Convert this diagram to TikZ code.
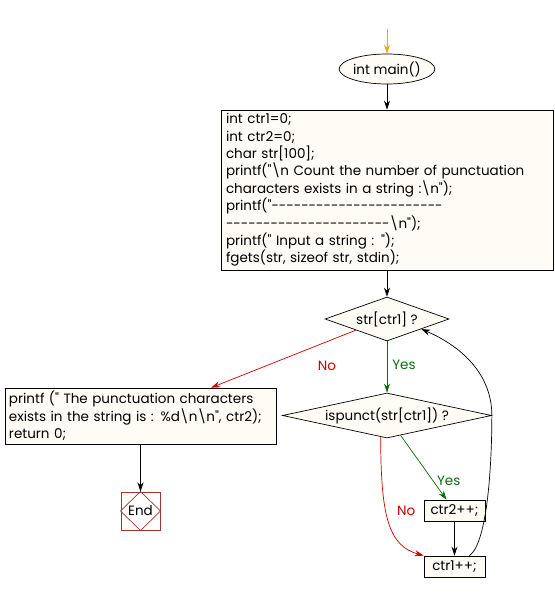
\documentclass[tikz,border=0pt]{standalone}
\usepackage{fontspec}
\setmainfont{Poppins}[Ligatures=TeXOff]
\usetikzlibrary{shapes.geometric,arrows.meta,calc}
\definecolor{paper}{HTML}{FFFBF5}
\definecolor{nored}{HTML}{CC0000}
\definecolor{yesgreen}{HTML}{0B6B0B}
\definecolor{endred}{HTML}{A83232}
\definecolor{startorange}{HTML}{FFA500}
\begin{document}
\begin{tikzpicture}[x=1pt,y=-1pt,line width=0.7pt,>={Stealth[length=9pt,width=6pt]},
  every node/.style={font=\fontsize{13.5}{17.4}\selectfont,inner sep=0pt},
  box/.style={draw,fill=paper,rectangle,align=left},
  decision/.style={draw,fill=paper,diamond},
  yes/.style={yesgreen,->},
  no/.style={nored,->}]
  \useasboundingbox (0,0) rectangle (554,593);
  % nodes
  \coordinate (top) at (387,29);
  \node[draw,fill=paper,ellipse,minimum width=84pt,minimum height=30pt] (main) at (387,69) {int main()};
  \node[box,text width=322pt,inner xsep=5pt,minimum height=160pt] (decl) at (387,190)
    {int ctr1=0;\\
     int ctr2=0;\\
     char str[100];\\
     printf("\textbackslash n Count the number of punctuation\\
     characters exists in a string :\textbackslash n");\\
     \mbox{printf("-----------------------}\\
     \mbox{----------------------\textbackslash n");}\\
     printf(" Input a string : ");\\
     fgets(str, sizeof str, stdin);};
  \node[decision,aspect=2.8,minimum width=124pt,minimum height=44pt] (ask1) at (387,319) {str[ctr1] ?};
  \node[decision,aspect=4.6,minimum width=209pt,minimum height=45pt] (ask2) at (387,415.5) {ispunct(str[ctr1]) ?};
  \node[box,text width=263pt,inner xsep=4pt,minimum height=56pt] (result) at (140.5,416)
    {printf (" The punctuation characters\\
     exists in the string is : \%d\textbackslash n\textbackslash n", ctr2);\\
     return 0;};
  \node[draw=endred,line width=1pt,minimum width=39pt,minimum height=38pt] (stop) at (140.5,511) {End};
  \draw[endred] (stop.north) -- (stop.east) -- (stop.south) -- (stop.west) -- cycle;
  \node[box,minimum width=61pt,minimum height=21pt] (inc2) at (454.5,510.5) {ctr2++;};
  \node[box,minimum width=61pt,minimum height=21pt] (inc1) at (454.5,566.5) {ctr1++;};
  % connectors
  \draw[startorange,->] (top) -- (main.north);
  \draw[->] (main.south) -- (decl.north);
  \draw[->] (decl.south) -- (ask1.north);
  \draw[no] (ask1.south west) -- node[pos=0.2,yshift=-24pt] {No}
    ($(result.north west)!0.76!(result.north east)$);
  \draw[yes] (ask1.south) -- node[pos=0.45,right=5pt] {Yes} (ask2.north);
  \draw[yes] ($(ask2.south)!0.13!(ask2.east)$) -- node[pos=0.7,right=4pt] {Yes}
    ($(inc2.north west)!0.37!(inc2.north east)$);
  \draw[no] ($(ask2.south)!0.06!(ask2.west)$) .. controls +(0,80) and +(-35,-10) ..
    node[pos=0.4,right=11pt] {No} (inc1.north west);
  \draw[->] (inc2.south) -- (inc1.north);
  \draw[->] ($(inc1.north west)!0.74!(inc1.north east)$) .. controls +(18,-12) and +(0,50) .. (ask2.east)
    .. controls +(0,-45) and +(35,15) .. ($(ask1.south)!0.55!(ask1.east)$);
  \draw[->] (result.south) -- (stop.north);
\end{tikzpicture}
\end{document}
